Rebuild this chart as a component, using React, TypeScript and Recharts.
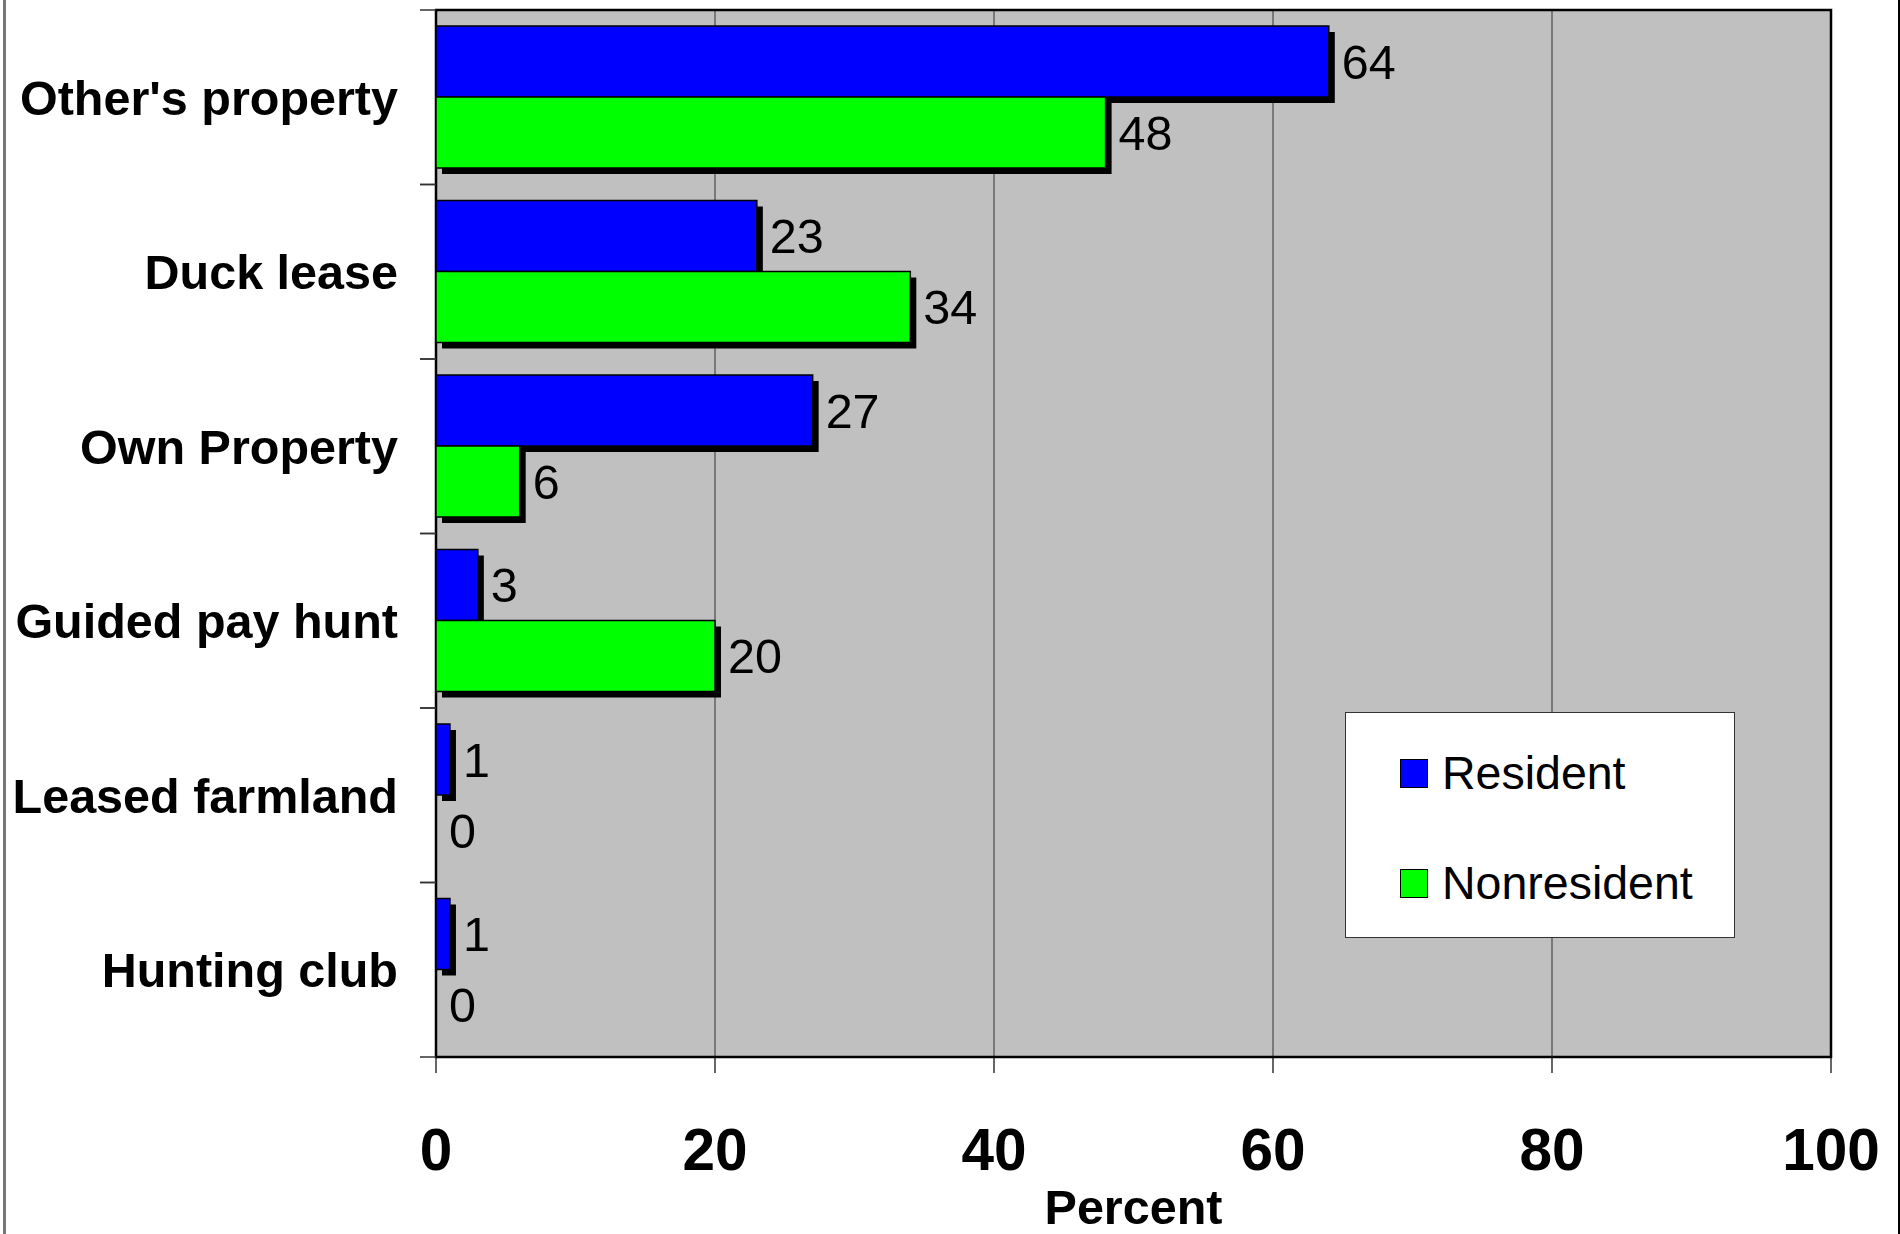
import React from 'react';
import {
  BarChart,
  Bar,
  XAxis,
  YAxis,
  CartesianGrid,
  LabelList,
  ReferenceArea,
  Label,
} from 'recharts';

const categories = [
  "Other's property",
  'Duck lease',
  'Own Property',
  'Guided pay hunt',
  'Leased farmland',
  'Hunting club',
];
const residentValues = [64, 23, 27, 3, 1, 1];
const nonresidentValues = [48, 34, 6, 20, 0, 0];
const xTicks = [0, 20, 40, 60, 80, 100];
const seriesNames = ['Resident', 'Nonresident'];
const seriesColors = ['#0000FF', '#00FF00'];
const axisTitle = 'Percent';

const data = categories.map((c, i) => ({
  category: c,
  resident: residentValues[i],
  nonresident: nonresidentValues[i],
}));

const W = 1900;
const H = 1234;
const PLOT_LEFT = 436;
const PLOT_TOP = 10;
const PLOT_BOTTOM = 1057;
const PLOT_RIGHT = 1831;
const BAND_HALF = (PLOT_BOTTOM - PLOT_TOP) / (2 * categories.length);
const FONT = '"Liberation Sans", Arial, Helvetica, sans-serif';

const ShadowBar = (props: any) => {
  const { x, y, width, height, fill } = props;
  if (!width || width <= 0.5) return null;
  return (
    <g>
      <rect x={x + 6} y={y + 6} width={width} height={height} fill="#000" />
      <rect x={x} y={y} width={width} height={height} fill={fill} stroke="#000" strokeWidth={1.5} />
    </g>
  );
};

const YTick = (props: any) => {
  const { y, payload } = props;
  return (
    <g>
      <line x1={PLOT_LEFT - 16} x2={PLOT_LEFT} y1={y - BAND_HALF} y2={y - BAND_HALF} stroke="#333" strokeWidth={1.5} />
      <line x1={PLOT_LEFT - 16} x2={PLOT_LEFT} y1={y + BAND_HALF} y2={y + BAND_HALF} stroke="#333" strokeWidth={1.5} />
      <text
        x={PLOT_LEFT - 38}
        y={y}
        dy="0.36em"
        textAnchor="end"
        fontFamily={FONT}
        fontWeight="bold"
        fontSize={48.5}
        fill="#000"
      >
        {payload.value}
      </text>
    </g>
  );
};

const XTick = (props: any) => {
  const { x, payload } = props;
  return (
    <text
      x={x}
      y={PLOT_BOTTOM + 113}
      textAnchor="middle"
      fontFamily={FONT}
      fontWeight="bold"
      fontSize={58.5}
      fill="#000"
    >
      {payload.value}
    </text>
  );
};

const AxisTitle = (props: any) => {
  const vb = props.viewBox || {};
  const cx = (vb.x ?? PLOT_LEFT) + (vb.width ?? PLOT_RIGHT - PLOT_LEFT) / 2;
  return (
    <text x={cx} y={(vb.y ?? PLOT_BOTTOM) + 167} textAnchor="middle" fontFamily={FONT} fontWeight="bold" fontSize={48.5} fill="#000">
      {axisTitle}
    </text>
  );
};

const LegendBox = () => (
  <div
    style={{
      position: 'absolute',
      left: 1345,
      top: 712,
      width: 388,
      height: 224,
      background: '#fff',
      border: '1.5px solid #333',
      fontFamily: FONT,
    }}
  >
    {seriesNames.map((name, i) => (
      <div
        key={name}
        style={{
          position: 'absolute',
          left: 54,
          top: i === 0 ? 40 : 150,
          display: 'flex',
          alignItems: 'center',
          height: 40,
        }}
      >
        <div
          style={{
            width: 26,
            height: 27,
            background: seriesColors[i],
            border: '1.5px solid #000',
            marginRight: 14,
          }}
        />
        <span style={{ fontSize: 46.5, color: '#000', lineHeight: '40px' }}>{name}</span>
      </div>
    ))}
  </div>
);

export default function App() {
  return (
    <div style={{ position: 'absolute', left: 0, top: 0, width: W, height: H, background: '#fff', fontFamily: FONT }}>
      <div style={{ position: 'absolute', left: 3, top: 0, width: 3, height: H, background: '#777' }} />
      <div style={{ position: 'absolute', left: W - 2, top: 0, width: 1.5, height: H, background: '#000' }} />
      <BarChart
        width={W}
        height={H}
        data={data}
        layout="vertical"
        margin={{ top: PLOT_TOP, right: W - PLOT_RIGHT, bottom: 0, left: 0 }}
        barGap={0}
        barSize={71}
      >
        <CartesianGrid horizontal={false} vertical={true} stroke="#333" strokeWidth={1} fill="#C0C0C0" fillOpacity={1} />
        <XAxis
          type="number"
          domain={[0, 100]}
          ticks={xTicks}
          interval={0}
          height={H - PLOT_BOTTOM}
          tickSize={16}
          tickMargin={0}
          axisLine={false}
          tickLine={{ stroke: '#000', strokeWidth: 1.2 }}
          tick={<XTick />}
        >
          <Label content={<AxisTitle />} />
        </XAxis>
        <YAxis
          type="category"
          dataKey="category"
          width={PLOT_LEFT}
          interval={0}
          axisLine={false}
          tickLine={false}
          tick={<YTick />}
        />
        <ReferenceArea x1={0} x2={100} fill="none" stroke="#000" strokeWidth={2.5} ifOverflow="visible" />
        <Bar dataKey="resident" name={seriesNames[0]} fill={seriesColors[0]} shape={<ShadowBar />} isAnimationActive={false}>
          <LabelList dataKey="resident" position="right" offset={13} fontSize={48.5} fill="#000" fontFamily={FONT} />
        </Bar>
        <Bar dataKey="nonresident" name={seriesNames[1]} fill={seriesColors[1]} shape={<ShadowBar />} isAnimationActive={false}>
          <LabelList dataKey="nonresident" position="right" offset={13} fontSize={48.5} fill="#000" fontFamily={FONT} />
        </Bar>
      </BarChart>
      <LegendBox />
    </div>
  );
}
